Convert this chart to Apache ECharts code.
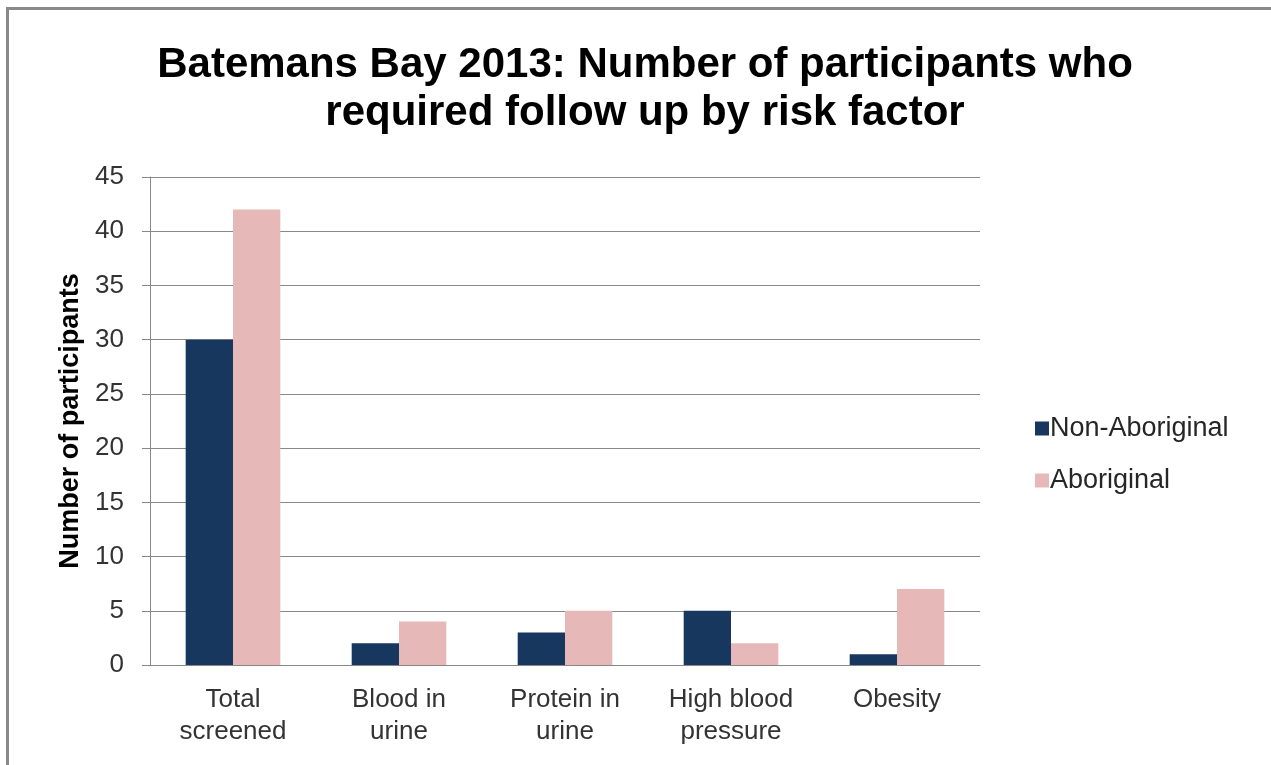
<!DOCTYPE html>
<html>
<head>
<meta charset="utf-8">
<script src="https://cdn.jsdelivr.net/npm/echarts@6/dist/echarts.min.js"></script>
<style>
  html, body { margin: 0; padding: 0; background: #fff; }
  #frame { position: absolute; left: 6px; top: 7px; width: 1300px; height: 800px;
           border-left: 3px solid #8a8a8a; border-top: 3px solid #8a8a8a; }
  #chart { position: absolute; left: 0; top: 0; width: 1271px; height: 765px; }
</style>
</head>
<body>
<div id="frame"></div>
<div id="chart"></div>
<script>
const categories = ['Total\nscreened', 'Blood in\nurine', 'Protein in\nurine', 'High blood\npressure', 'Obesity'];
const nonAboriginal = [30, 2, 3, 5, 1];
const aboriginal = [42, 4, 5, 2, 7];

let chart = echarts.init(document.getElementById('chart'));
let font = 'Liberation Sans, Arial, sans-serif';

let options = {
  animation: false,
  title: {
    text: 'Batemans Bay 2013: Number of participants who\nrequired follow up by risk factor',
    left: 640,
    textAlign: 'center',
    top: 36,
    textStyle: {
      fontFamily: font,
      fontSize: 42,
      fontWeight: 'bold',
      color: '#000',
      lineHeight: 48
    }
  },
  legend: {
    orient: 'vertical',
    left: 1030,
    top: 410,
    itemGap: 25,
    itemWidth: 14,
    itemHeight: 14,
    icon: 'rect',
    textStyle: { fontFamily: font, fontSize: 27, color: '#262626', padding: [0, 0, 0, -4] },
    data: ['Non-Aboriginal', 'Aboriginal']
  },
  grid: { left: 150, right: 291, top: 177, bottom: 100 },
  xAxis: {
    type: 'category',
    data: categories,
    axisLine: { lineStyle: { color: '#888' } },
    axisTick: { length: 8, lineStyle: { color: '#888' } },
    axisLabel: {
      fontFamily: font,
      fontSize: 26,
      color: '#333',
      lineHeight: 32,
      margin: 19
    }
  },
  yAxis: {
    type: 'value',
    min: 0,
    max: 45,
    interval: 5,
    name: 'Number of participants',
    nameLocation: 'middle',
    nameGap: 66,
    nameTextStyle: { fontFamily: font, fontSize: 27, fontWeight: 'bold', color: '#000' },
    axisLine: { show: true, lineStyle: { color: '#888' } },
    axisTick: { show: true, length: 8, lineStyle: { color: '#888' } },
    axisLabel: { fontFamily: font, fontSize: 26, color: '#333', margin: 26 },
    splitLine: { lineStyle: { color: '#888' } }
  },
  series: [
    {
      name: 'Non-Aboriginal',
      type: 'bar',
      data: nonAboriginal,
      barGap: '0%',
      barCategoryGap: '43%',
      itemStyle: { color: '#17375e' }
    },
    {
      name: 'Aboriginal',
      type: 'bar',
      data: aboriginal,
      itemStyle: { color: '#e6b9b8' }
    }
  ]
};
chart.setOption(options);
</script>
</body>
</html>
